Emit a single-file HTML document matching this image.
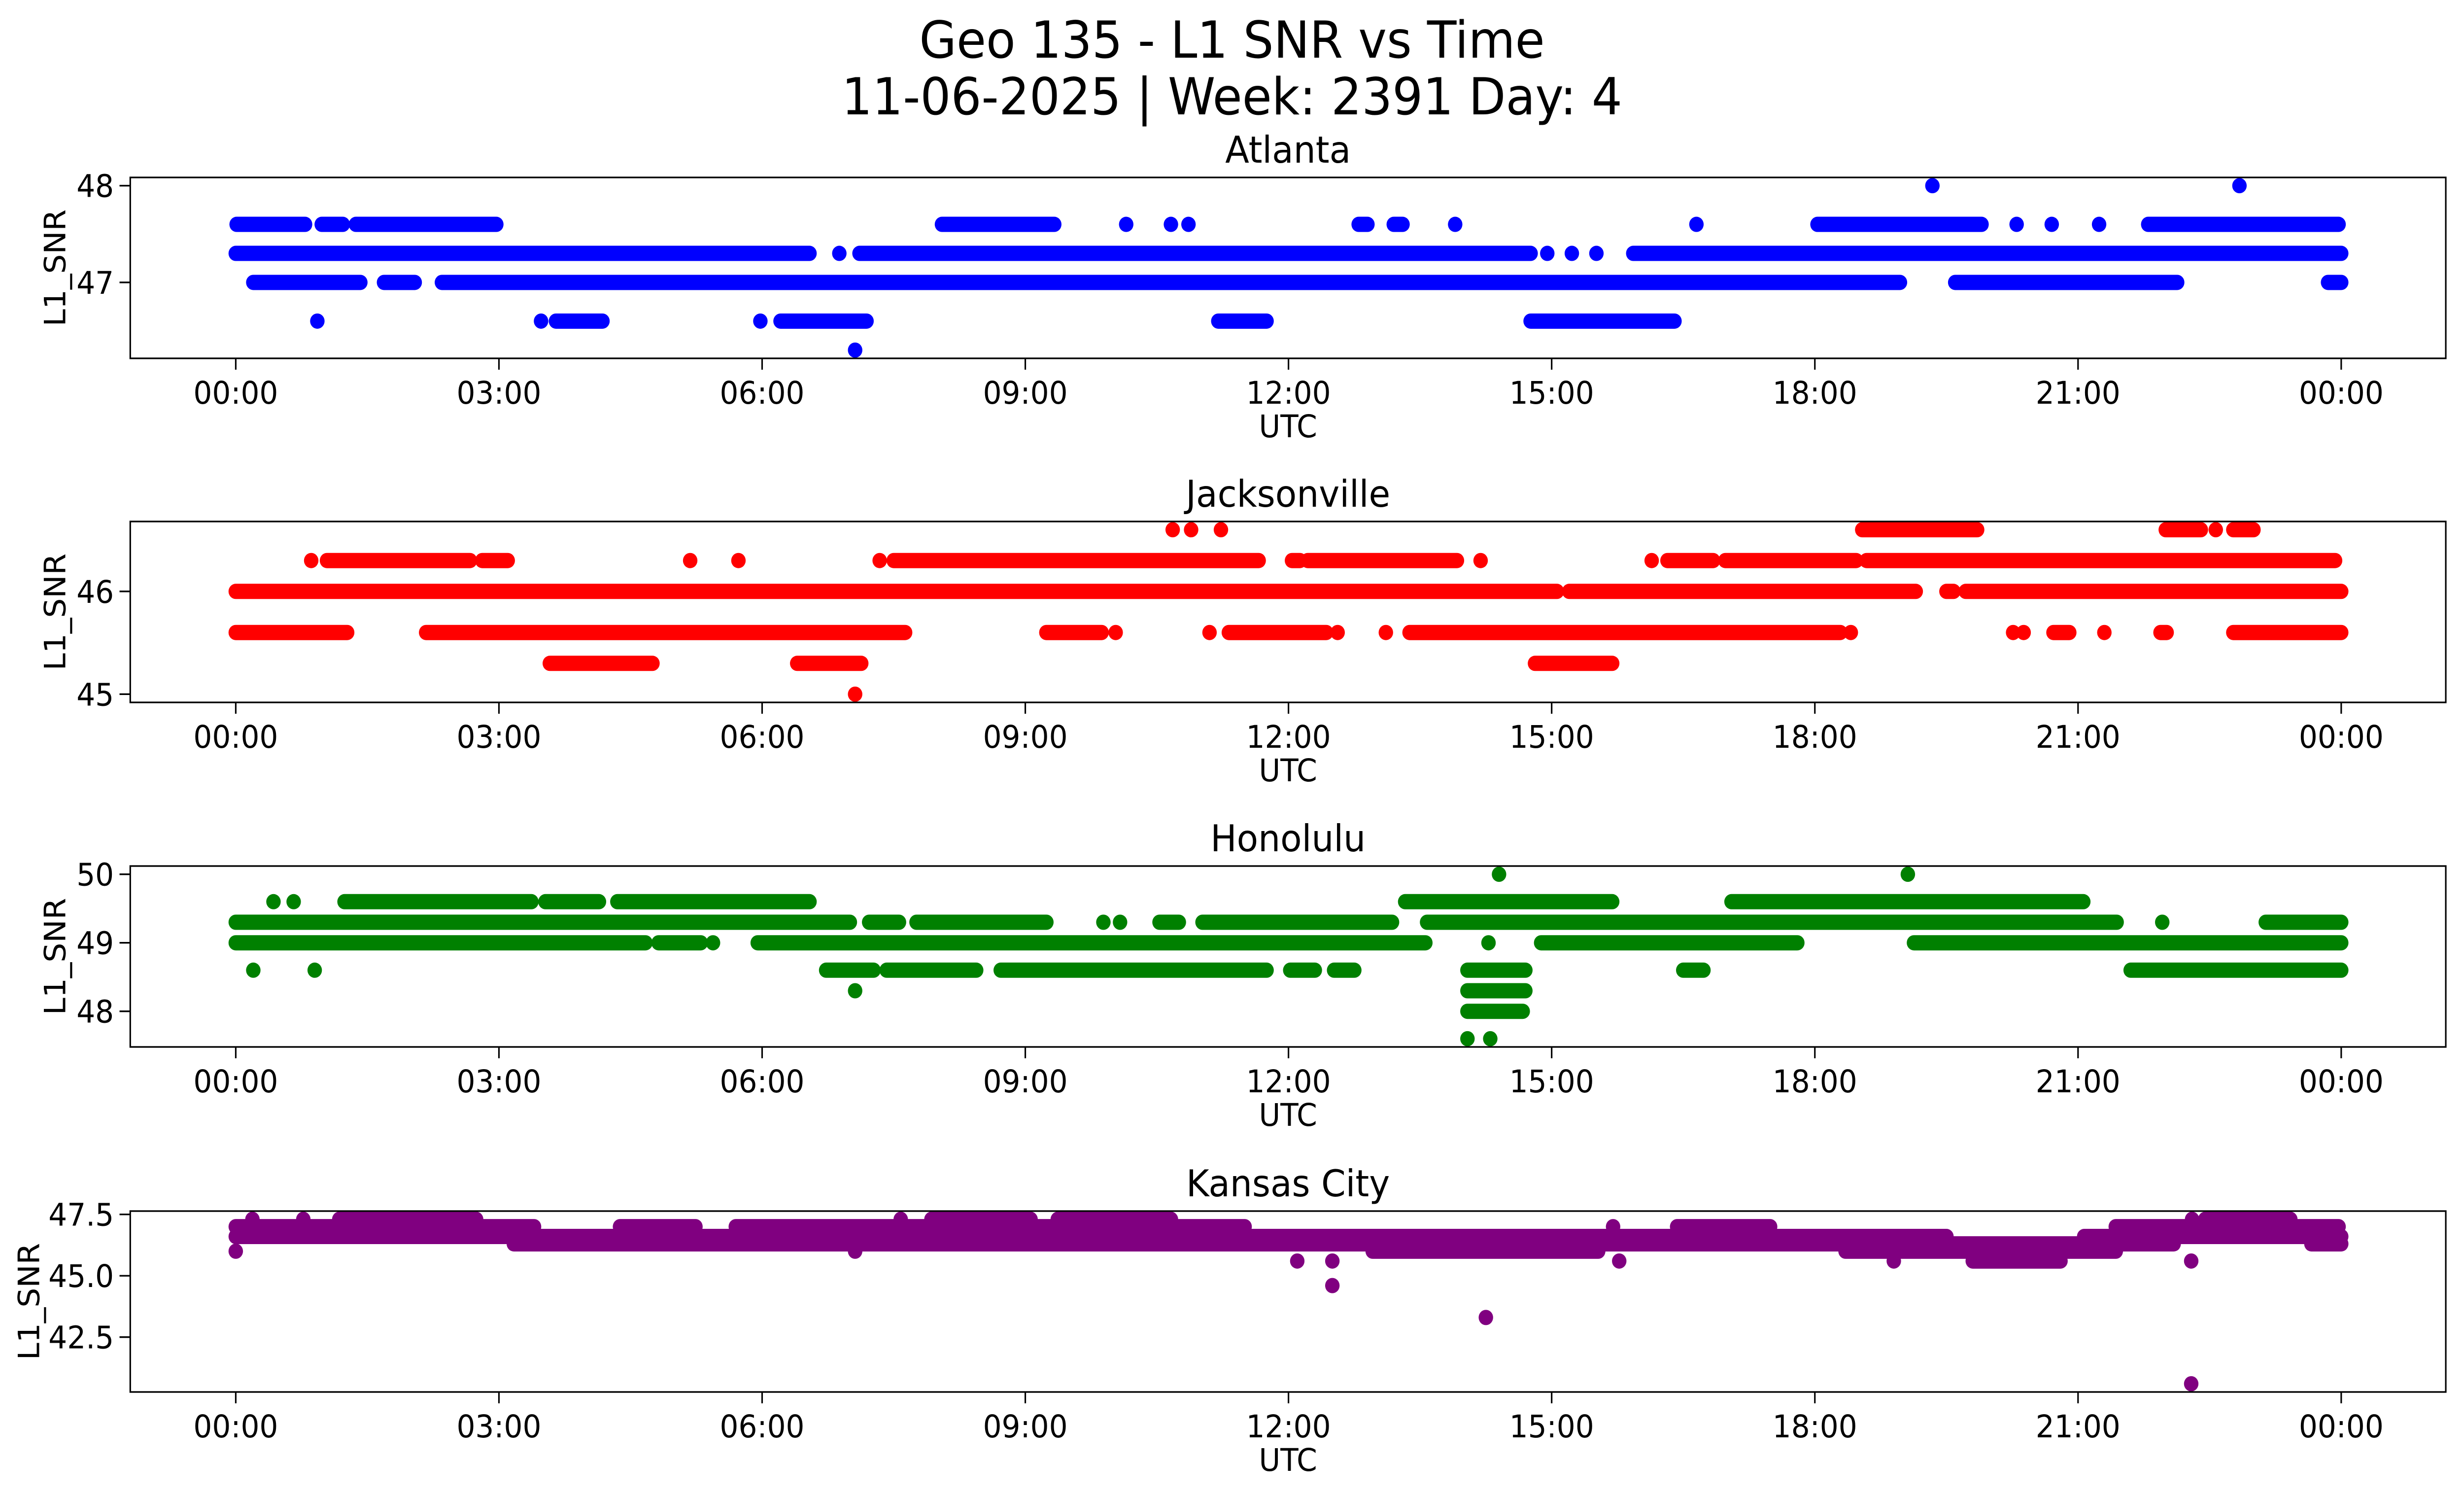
<!DOCTYPE html>
<html><head><meta charset="utf-8"><title>Geo 135 - L1 SNR vs Time</title>
<style>
html,body{margin:0;padding:0;background:#fff;overflow:hidden;width:100%;height:100%;}
svg{display:block;width:100vw;height:100vh;font-family:"DejaVu Sans","Liberation Sans",sans-serif;}
</style></head>
<body>
<svg id="fig" xmlns="http://www.w3.org/2000/svg" viewBox="0 0 5278 3033" preserveAspectRatio="none">
<rect x="0" y="0" width="5278" height="3033" fill="#fff"/>
<text x="2639" y="117" font-size="103" text-anchor="middle">Geo 135 - L1 SNR vs Time</text>
<text x="2639" y="232" font-size="103" text-anchor="middle">11-06-2025 | Week: 2391 Day: 4</text>
</svg>
<script>
// ---- Atlanta ----
const atlStart = [19.34,22.84, 0.01,0.98,1.37,8.05,10.15,10.66,10.86,12.8,13.2,13.9,16.65,18.03,20.3,20.7,21.24,21.8, 0,6.88,7.11,14.95,15.23,15.51,15.93, 0.2,1.69,2.35,19.6,23.85, 0.93,3.48,3.65,5.98,6.21,11.2,14.76, 7.06];
const atlEnd   = [19.34,22.84, 0.79,1.22,2.97,9.33,10.15,10.66,10.86,12.9,13.3,13.9,16.65,19.9,20.3,20.7,21.24,23.97, 6.54,6.88,14.76,14.95,15.23,15.51,24.0, 1.42,2.04,18.97,22.13,24.0, 0.93,3.48,4.18,5.98,7.19,11.75,16.4, 7.06];
const atlValue = [48,48, 47.6,47.6,47.6,47.6,47.6,47.6,47.6,47.6,47.6,47.6,47.6,47.6,47.6,47.6,47.6,47.6, 47.3,47.3,47.3,47.3,47.3,47.3,47.3, 47,47,47,47,47, 46.6,46.6,46.6,46.6,46.6,46.6,46.6, 46.3];
const atlTicks = [47,48];
const atlTickLabels = ["47","48"];
// ---- Jacksonville ----
const jaxStart = [10.68,10.89,11.23,18.54,22.0,22.57,22.77, 0.86,1.04,2.81,5.18,5.73,7.34,7.5,12.04,12.22,14.19,16.14,16.32,16.98,18.59, 0,15.2,19.5,19.72, 0,2.17,9.24,10.03,11.1,11.32,12.56,13.11,13.38,18.41,20.26,20.38,20.72,21.3,21.94,22.77, 3.58,6.4,14.81, 7.06];
const jaxEnd   = [10.68,10.89,11.23,19.85,22.4,22.57,23.0, 0.86,2.67,3.1,5.18,5.73,7.34,11.66,12.13,13.92,14.19,16.14,16.84,18.47,23.93, 15.06,19.15,19.58,24, 1.27,7.63,9.87,10.03,11.1,12.43,12.56,13.11,18.29,18.41,20.26,20.38,20.9,21.3,22.01,24, 4.75,7.13,15.69, 7.06];
const jaxValue = [46.6,46.6,46.6,46.6,46.6,46.6,46.6, 46.3,46.3,46.3,46.3,46.3,46.3,46.3,46.3,46.3,46.3,46.3,46.3,46.3,46.3, 46,46,46,46, 45.6,45.6,45.6,45.6,45.6,45.6,45.6,45.6,45.6,45.6,45.6,45.6,45.6,45.6,45.6,45.6, 45.3,45.3,45.3, 45.0];
const jaxTicks = [45,46];
const jaxTickLabels = ["45","46"];
// ---- Honolulu ----
const honStart = [14.4,19.06, 0.43,0.66,1.24,3.53,4.35,13.33,17.05, 0,7.22,7.76,9.89,10.08,10.53,11.02,13.58,21.96,23.14, 0,4.82,5.44,5.95,14.28,14.88,19.13, 0.2,0.9,6.73,7.42,8.72,12.02,12.52,14.04,16.5,21.6, 7.06,14.04, 14.04, 14.04,14.3];
const honEnd   = [14.4,19.06, 0.43,0.66,3.37,4.14,6.54,15.69,21.06, 7.0,7.56,9.24,9.89,10.08,10.75,13.18,21.44,21.96,24, 4.67,5.3,5.44,13.56,14.28,17.8,24, 0.2,0.9,7.27,8.44,11.75,12.3,12.75,14.7,16.73,24, 7.06,14.7, 14.67, 14.04,14.3];
const honValue = [50,50, 49.6,49.6,49.6,49.6,49.6,49.6,49.6, 49.3,49.3,49.3,49.3,49.3,49.3,49.3,49.3,49.3,49.3, 49,49,49,49,49,49,49, 48.6,48.6,48.6,48.6,48.6,48.6,48.6,48.6,48.6,48.6, 48.3,48.3, 48.0, 47.6,47.6];
const honTicks = [48,49,50];
const honTickLabels = ["48","49","50"];
// ---- Kansas City ----
const kcStart = [0.19,0.77,1.18,7.58,7.93,9.37,22.3,22.45, 0,4.38,5.7,15.7,16.43,21.43, 0,21.07, 3.17,23.66, 0,7.06,12.96,18.35, 12.1,12.5,15.77,18.9,19.8,22.29, 12.5, 14.25, 22.29];
const kcEnd   = [0.19,0.77,2.74,7.58,9.06,10.66,22.3,23.42, 3.4,5.24,11.5,15.7,17.49,23.97, 19.5,24, 22.09,24, 0,7.06,15.53,21.43, 12.1,12.5,15.77,18.9,20.8,22.29, 12.5, 14.25, 22.29];
const kcValue = [47.3,47.3,47.3,47.3,47.3,47.3,47.3,47.3, 47.0,47.0,47.0,47.0,47.0,47.0, 46.6,46.6, 46.3,46.3, 46.0,46.0,46.0,46.0, 45.6,45.6,45.6,45.6,45.6,45.6, 44.6, 43.3, 40.6];
const kcTicks = [42.5,45,47.5];
const kcTickLabels = ["42.5","45.0","47.5"];
// ---- shared x axis ----
const xTicks = [0,3,6,9,12,15,18,21,24];
const xTickLabels = ["00:00","03:00","06:00","09:00","12:00","15:00","18:00","21:00","00:00"];

const NS = "http://www.w3.org/2000/svg";
const svg = document.getElementById('fig');
const AX_L = 279, AX_R = 5239, AX_H = 367;
const X0 = 505, X1 = 5015;
function xScale(h){ return X0 + h/24*(X1-X0); }
function mk(tag, attrs, parent){
  const e = document.createElementNS(NS, tag);
  for (const k in attrs) e.setAttribute(k, attrs[k]);
  (parent||svg).appendChild(e);
  return e;
}
const panels = [
  {name:'atlanta', title:'Atlanta', color:'#0000ff', top:360, s:atlStart, e:atlEnd, v:atlValue, ticks:atlTicks, labels:atlTickLabels, ylx:118},
  {name:'jacksonville', title:'Jacksonville', color:'#ff0000', top:1058, s:jaxStart, e:jaxEnd, v:jaxValue, ticks:jaxTicks, labels:jaxTickLabels, ylx:118},
  {name:'honolulu', title:'Honolulu', color:'#008000', top:1757, s:honStart, e:honEnd, v:honValue, ticks:honTicks, labels:honTickLabels, ylx:118},
  {name:'kansas-city', title:'Kansas City', color:'#800080', top:2457, s:kcStart, e:kcEnd, v:kcValue, ticks:kcTicks, labels:kcTickLabels, ylx:62}
];
panels.forEach(p => {
  const vmin = Math.min(...p.v), vmax = Math.max(...p.v);
  const pad = (vmax - vmin)*0.05;
  const lo = vmin - pad, hi = vmax + pad;
  const yScale = v => p.top + (hi - v)/(hi - lo)*AX_H;
  const g = mk('g', {});
  
  
  const clipId = 'clip-' + p.name;
  const cp = mk('clipPath', {id: clipId}, g);
  mk('rect', {x: AX_L, y: p.top, width: AX_R-AX_L, height: AX_H}, cp);
  const marks = mk('g', {'clip-path': 'url(#'+clipId+')'}, g);
  
  
  for (let i = 0; i < p.v.length; i++) {
    const xa = xScale(p.s[i]), xb = xScale(p.e[i]), y = yScale(p.v[i]);
    let el;
    if (xb - xa < 0.5) {
      el = mk('circle', {cx: xa, cy: y, r: 15.5, fill: p.color}, marks);
    } else {
      el = mk('line', {x1: xa, y1: y, x2: xb, y2: y, stroke: p.color, 'stroke-width': 31, 'stroke-linecap': 'round'}, marks);
    }
    
    
  }
  xTicks.forEach((t, i) => {
    const x = xScale(t);
    mk('line', {x1: x, y1: p.top+AX_H, x2: x, y2: p.top+AX_H+23, stroke: '#000', 'stroke-width': 3.3}, g);
    const tx = mk('text', {x: x, y: p.top+AX_H+92, 'font-size': 63, 'text-anchor': 'middle'}, g);
    tx.textContent = xTickLabels[i];
    
    
  });
  p.ticks.forEach((t, i) => {
    const y = yScale(t);
    mk('line', {x1: AX_L-23, y1: y, x2: AX_L, y2: y, stroke: '#000', 'stroke-width': 3.3}, g);
    const ty = mk('text', {x: AX_L-35, y: y+23, 'font-size': 63, 'text-anchor': 'end'}, g);
    ty.textContent = p.labels[i];
    
    
  });
  const frame = mk('rect', {x: AX_L, y: p.top, width: AX_R-AX_L, height: AX_H, fill: 'none', stroke: '#000', 'stroke-width': 3.3}, g);
  
  
  const tt = mk('text', {x: (AX_L+AX_R)/2, y: p.top-30, 'font-size': 75, 'text-anchor': 'middle'}, g);
  tt.textContent = p.title;
  
  
  const xl = mk('text', {x: (AX_L+AX_R)/2, y: p.top+AX_H+160, 'font-size': 63, 'text-anchor': 'middle'}, g);
  xl.textContent = 'UTC';
  
  
  const yc = p.top + AX_H/2;
  const yl = mk('text', {x: 0, y: 0, 'font-size': 63, 'text-anchor': 'middle', transform: 'translate('+(p.ylx+22)+','+yc+') rotate(-90)'}, g);
  yl.textContent = 'L1_SNR';
  
  
});
</script>
</body></html>
